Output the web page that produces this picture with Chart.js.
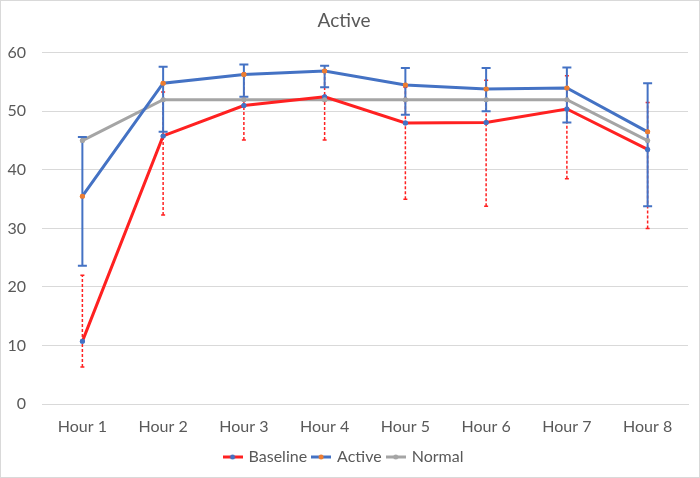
<!DOCTYPE html>
<html><head><meta charset="utf-8">
<script src="https://cdn.jsdelivr.net/npm/chart.js@4/dist/chart.umd.min.js"></script>
<style>html,body{margin:0;padding:0;background:#fff;}#wrap{width:700px;height:478px;position:relative;}</style>
</head><body><div id="wrap"><canvas id="c" width="700" height="478"></canvas></div>
<script>
const categories = ['Hour 1','Hour 2','Hour 3','Hour 4','Hour 5','Hour 6','Hour 7','Hour 8'];
const baseline = [10.7, 45.8, 51.0, 52.5, 48.0, 48.1, 50.4, 43.5];
const baselineLow = [6.3, 32.3, 45.1, 45.1, 35.0, 33.8, 38.5, 30.0];
const baselineHigh = [22.0, 53.3, 56.5, 57.0, 54.1, 55.3, 56.1, 51.5];
const active = [35.5, 54.8, 56.3, 56.9, 54.5, 53.8, 54.0, 46.5];
const activeLow = [23.6, 46.5, 52.5, 54.1, 49.4, 50.0, 48.1, 33.8];
const activeHigh = [45.6, 57.6, 58.0, 57.8, 57.4, 57.4, 57.5, 54.8];
const normal = [45, 52, 52, 52, 52, 52, 52, 45];
const yTicks = [0, 10, 20, 30, 40, 50, 60];

const RED = '#FF2121', BLUE = '#4472C4', GRAY = '#A5A5A5', ORANGE = '#ED7D31';
const FONT = 'Lato, "Open Sans", sans-serif';

function legendIcon(lineColor, dotColor) {
  const c = document.createElement('canvas');
  c.width = 20; c.height = 8;
  const x = c.getContext('2d');
  x.strokeStyle = lineColor; x.lineWidth = 3;
  x.beginPath(); x.moveTo(0, 4); x.lineTo(20, 4); x.stroke();
  x.fillStyle = dotColor; x.beginPath(); x.arc(10, 4, 2.5, 0, Math.PI * 2); x.fill();
  return c;
}

const errorBars = {
  id: 'errorBars',
  afterDatasetsDraw(chart) {
    const ctx = chart.ctx, y = chart.scales.y, xs = chart.scales.x;
    const sets = [
      {low: baselineLow, high: baselineHigh, color: RED, width: 1.5, dash: [3, 2], cap: 4},
      {low: activeLow, high: activeHigh, color: BLUE, width: 2, dash: [], cap: 9}
    ];
    ctx.save();
    sets.forEach(s => {
      ctx.strokeStyle = s.color; ctx.lineWidth = s.width;
      categories.forEach((c, i) => {
        const px = xs.getPixelForValue(i);
        const y1 = y.getPixelForValue(s.low[i]), y2 = y.getPixelForValue(s.high[i]);
        ctx.setLineDash(s.dash);
        ctx.beginPath(); ctx.moveTo(px, y1); ctx.lineTo(px, y2); ctx.stroke();
        ctx.setLineDash([]);
        ctx.beginPath();
        ctx.moveTo(px - s.cap / 2, y1); ctx.lineTo(px + s.cap / 2, y1);
        ctx.moveTo(px - s.cap / 2, y2); ctx.lineTo(px + s.cap / 2, y2);
        ctx.stroke();
      });
    });
    ctx.restore();
    chart.data.datasets.forEach((d, di) => {
      const meta = chart.getDatasetMeta(di);
      meta.data.forEach(pt => pt.draw(ctx, chart.chartArea));
    });
  },
  afterDraw(chart) {
    const ctx = chart.ctx;
    ctx.save();
    ctx.strokeStyle = '#D9D9D9'; ctx.lineWidth = 1;
    ctx.strokeRect(0.5, 0.5, chart.width - 1, chart.height - 1);
    ctx.restore();
  }
};

new Chart(document.getElementById('c'), {
  type: 'line',
  data: {
    labels: categories,
    datasets: [
      {label: 'Baseline', data: baseline, borderColor: RED, backgroundColor: BLUE, pointBackgroundColor: BLUE, pointBorderColor: BLUE, borderWidth: 3, pointRadius: 2.5, pointBorderWidth: 0, tension: 0},
      {label: 'Active', data: active, borderColor: BLUE, backgroundColor: ORANGE, pointBackgroundColor: ORANGE, pointBorderColor: ORANGE, borderWidth: 3, pointRadius: 2.5, pointBorderWidth: 0, tension: 0},
      {label: 'Normal', data: normal, borderColor: GRAY, backgroundColor: GRAY, pointBackgroundColor: GRAY, pointBorderColor: GRAY, borderWidth: 3, pointRadius: 2.5, pointBorderWidth: 0, tension: 0}
    ]
  },
  options: {
    responsive: false,
    animation: false,
    layout: {padding: {left: 0, right: 12, top: 5, bottom: 3}},
    plugins: {
      title: {display: true, text: 'Active', color: '#595959', font: {family: FONT, size: 19, weight: 'normal'}, padding: {top: 4, bottom: 21}},
      legend: {
        position: 'bottom',
        labels: {
          color: '#595959', font: {family: FONT, size: 16},
          usePointStyle: true, boxWidth: 20, boxHeight: 8, padding: 6,
          generateLabels(chart) {
            const cols = [[RED, BLUE], [BLUE, ORANGE], [GRAY, GRAY]];
            return chart.data.datasets.map((d, i) => ({
              text: d.label, pointStyle: legendIcon(cols[i][0], cols[i][1]),
              fillStyle: cols[i][0], strokeStyle: cols[i][0], lineWidth: 0, datasetIndex: i, fontColor: '#595959'
            }));
          }
        }
      },
      tooltip: {enabled: false}
    },
    scales: {
      x: {
        offset: true,
        afterFit(s) { s.height = 39; },
        grid: {display: false, drawTicks: false, offset: true},
        border: {display: true, color: '#D9D9D9'},
        ticks: {color: '#595959', font: {family: FONT, size: 16}, padding: 13}
      },
      y: {
        min: 0, max: 60,
        afterFit(s) { s.width = 42; },
        afterBuildTicks(s) { s.ticks = yTicks.map(v => ({value: v})); },
        grid: {color: '#D9D9D9', drawTicks: false},
        border: {display: false},
        ticks: {color: '#595959', font: {family: FONT, size: 16}, padding: 16}
      }
    }
  },
  plugins: [errorBars]
});
</script>
</body></html>
